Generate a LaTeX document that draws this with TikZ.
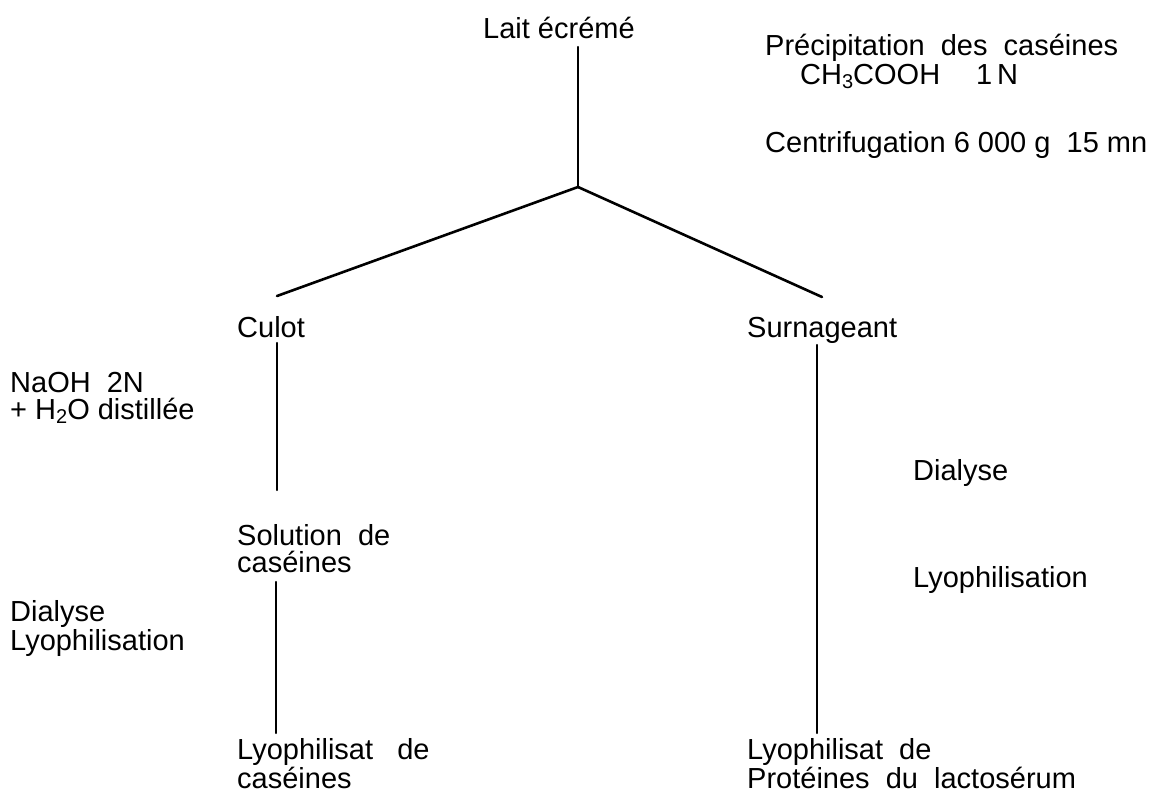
\documentclass[tikz,border=0pt]{standalone}
\usepackage{fontspec}
\setmainfont{Liberation Sans}
\newcommand{\mysubs}[1]{\raisebox{-0.3ex}{\fontsize{20}{20}\selectfont #1}}
\begin{document}
\begin{tikzpicture}[x=1pt,y=-1pt,
  lbl/.style={anchor=base west,inner sep=0pt,align=left,
    font=\fontsize{29}{27}\selectfont},
  conn/.style={line width=2.2pt,line cap=round},
  diag/.style={line width=2.6pt,line cap=round}]
\useasboundingbox (0,0) rectangle (1161,800);
% texts (anchor = baseline of last line)
\node[lbl] (lait) at (483,38) {Lait écrémé};
\node[lbl] (prec) at (765,56) {Précipitation\ \ des\ \ caséines};
\node[lbl] (ch3) at (800,84) {CH\mysubs{3}COOH\hspace{36pt}1\,N};
\node[lbl] (centr) at (765,152) {Centrifugation 6 000 g\ \ 15 mn};
\node[lbl] (culot) at (237,337) {Culot};
\node[lbl] (surn) at (747,337) {Surnageant};
\node[lbl] (naoh) at (10,419) {NaOH\ \ 2N\\+ H\mysubs{2}O\ distillée};
\node[lbl] (dialR) at (913,480) {Dialyse};
\node[lbl] (sol) at (237,572) {Solution\ \ de\\caséines};
\node[lbl] (lyoR) at (913,587) {Lyophilisation};
\node[lbl] (dialL) at (10,650) {Dialyse\\Lyophilisation};
\node[lbl] (lyocas) at (237,788) {Lyophilisat\ \ \ de\\caséines};
\node[lbl] (lyoprot) at (747,788) {Lyophilisat\ \ de\\Protéines\ \ du\ \ lactosérum};
% line end points
\coordinate (laitb) at (578,47);
\coordinate (j) at (578,187);
\coordinate (culott) at (277,296);
\coordinate (surnt) at (822,297);
\coordinate (culotb) at (277,343);
\coordinate (solt) at (277,490);
\coordinate (solb) at (276,582);
\coordinate (lyocast) at (276,733);
\coordinate (surnb) at (817,345);
\coordinate (lyoprott) at (817,733);
% connectors
\draw[conn] (laitb) -- (j);
\draw[diag] (j) -- (culott);
\draw[diag] (j) -- (surnt);
\draw[conn] (culotb) -- (solt);
\draw[conn] (solb) -- (lyocast);
\draw[conn] (surnb) -- (lyoprott);
\end{tikzpicture}
\end{document}
